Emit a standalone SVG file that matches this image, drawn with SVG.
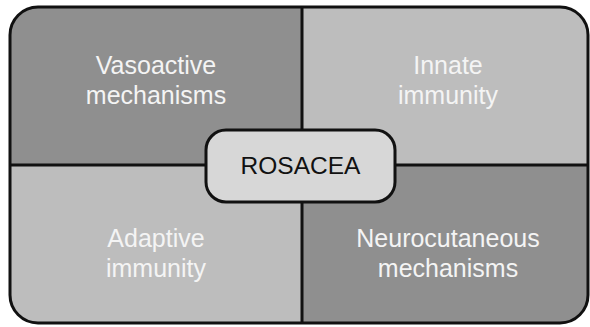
<svg xmlns="http://www.w3.org/2000/svg" width="590" height="327" viewBox="0 0 590 327">
<style>
.dark{fill:#8f8f8f}
.light{fill:#bdbdbd}
.lbl{font-family:"Liberation Sans",Arial,sans-serif;font-size:25px;fill:#f4f4f4;text-anchor:middle}
.line{stroke:#111;stroke-width:3;fill:none}
.center{fill:#d7d7d7;stroke:#111;stroke-width:3}
.ctext{font-family:"Liberation Sans",Arial,sans-serif;font-size:24.5px;fill:#111;text-anchor:middle}
</style>
<rect width="590" height="327" fill="#fff"/>
<g id="vasoactive">
<path class="dark" d="M10,165 L10,35 A28,28 0 0 1 38,7 L302,7 L302,165 Z"/>
<text class="lbl" x="156" y="74">Vasoactive</text>
<text class="lbl" x="156" y="104">mechanisms</text>
</g>
<g id="innate">
<path class="light" d="M302,7 L560,7 A28,28 0 0 1 588,35 L588,165 L302,165 Z"/>
<text class="lbl" x="448" y="74">Innate</text>
<text class="lbl" x="448" y="104">immunity</text>
</g>
<g id="adaptive">
<path class="light" d="M10,165 L302,165 L302,323 L38,323 A28,28 0 0 1 10,295 Z"/>
<text class="lbl" x="156" y="247">Adaptive</text>
<text class="lbl" x="156" y="277">immunity</text>
</g>
<g id="neurocutaneous">
<path class="dark" d="M302,165 L588,165 L588,295 A28,28 0 0 1 560,323 L302,323 Z"/>
<text class="lbl" x="448" y="247">Neurocutaneous</text>
<text class="lbl" x="448" y="277">mechanisms</text>
</g>
<g id="connectors">
<line class="line" x1="302" y1="7" x2="302" y2="323"/>
<line class="line" x1="10" y1="165" x2="588" y2="165"/>
<rect class="line" x="10" y="7" width="578" height="316" rx="28" ry="28"/>
</g>
<g id="rosacea">
<rect class="center" x="206" y="130" width="189" height="72" rx="20" ry="20"/>
<text class="ctext" x="300.5" y="174">ROSACEA</text>
</g>
</svg>
